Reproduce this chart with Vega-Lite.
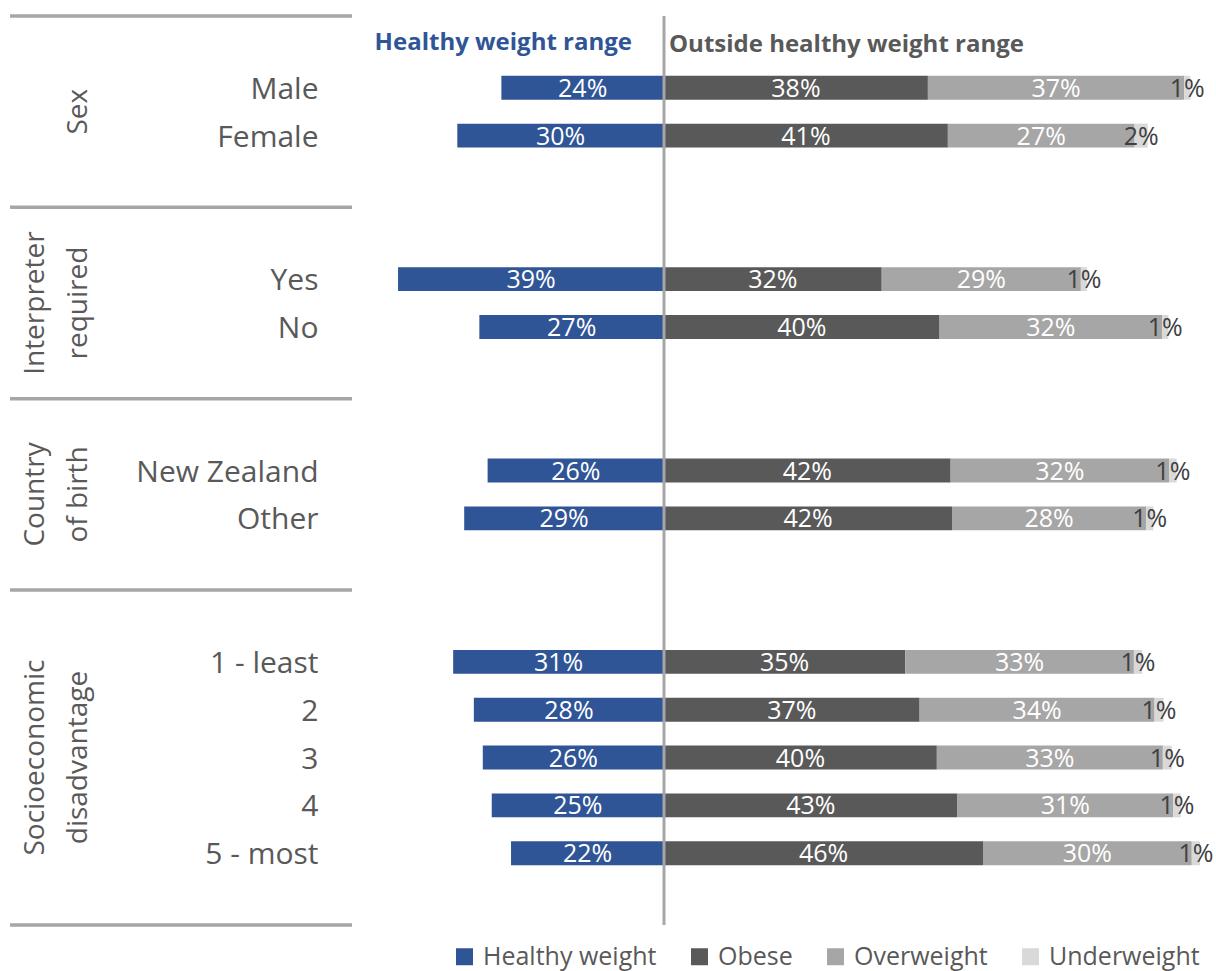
{
  "$schema": "https://vega.github.io/schema/vega-lite/v6.json",
  "width": 1216,
  "height": 909,
  "autosize": {"type": "none"},
  "padding": {"left": 0, "top": 16, "right": 0, "bottom": 46},
  "config": {
    "view": {"stroke": null},
    "font": "Open Sans",
    "axisY": {"title": null, "domain": false, "ticks": false, "tickSize": 0, "grid": false, "labelPadding": 4, "labelOffset": 2, "labelFontSize": 30, "labelFont": "Open Sans", "labelColor": "#595959", "labelLimit": 0}
  },
  "datasets": {
    "bars": [
      {"row": "Male", "cat": "Healthy weight", "v": 0.236},
      {"row": "Male", "cat": "Obese", "v": 0.383},
      {"row": "Male", "cat": "Overweight", "v": 0.372},
      {"row": "Male", "cat": "Underweight", "v": 0.009},
      {"row": "Female", "cat": "Healthy weight", "v": 0.300},
      {"row": "Female", "cat": "Obese", "v": 0.412},
      {"row": "Female", "cat": "Overweight", "v": 0.271},
      {"row": "Female", "cat": "Underweight", "v": 0.019},
      {"row": "Yes", "cat": "Healthy weight", "v": 0.386},
      {"row": "Yes", "cat": "Obese", "v": 0.316},
      {"row": "Yes", "cat": "Overweight", "v": 0.289},
      {"row": "Yes", "cat": "Underweight", "v": 0.009},
      {"row": "No", "cat": "Healthy weight", "v": 0.268},
      {"row": "No", "cat": "Obese", "v": 0.400},
      {"row": "No", "cat": "Overweight", "v": 0.323},
      {"row": "No", "cat": "Underweight", "v": 0.009},
      {"row": "New Zealand", "cat": "Healthy weight", "v": 0.256},
      {"row": "New Zealand", "cat": "Obese", "v": 0.416},
      {"row": "New Zealand", "cat": "Overweight", "v": 0.317},
      {"row": "New Zealand", "cat": "Underweight", "v": 0.011},
      {"row": "Other", "cat": "Healthy weight", "v": 0.290},
      {"row": "Other", "cat": "Obese", "v": 0.418},
      {"row": "Other", "cat": "Overweight", "v": 0.282},
      {"row": "Other", "cat": "Underweight", "v": 0.010},
      {"row": "1 - least", "cat": "Healthy weight", "v": 0.306},
      {"row": "1 - least", "cat": "Obese", "v": 0.350},
      {"row": "1 - least", "cat": "Overweight", "v": 0.332},
      {"row": "1 - least", "cat": "Underweight", "v": 0.012},
      {"row": "2", "cat": "Healthy weight", "v": 0.276},
      {"row": "2", "cat": "Obese", "v": 0.371},
      {"row": "2", "cat": "Overweight", "v": 0.341},
      {"row": "2", "cat": "Underweight", "v": 0.013},
      {"row": "3", "cat": "Healthy weight", "v": 0.263},
      {"row": "3", "cat": "Obese", "v": 0.396},
      {"row": "3", "cat": "Overweight", "v": 0.328},
      {"row": "3", "cat": "Underweight", "v": 0.013},
      {"row": "4", "cat": "Healthy weight", "v": 0.250},
      {"row": "4", "cat": "Obese", "v": 0.426},
      {"row": "4", "cat": "Overweight", "v": 0.313},
      {"row": "4", "cat": "Underweight", "v": 0.011},
      {"row": "5 - most", "cat": "Healthy weight", "v": 0.222},
      {"row": "5 - most", "cat": "Obese", "v": 0.463},
      {"row": "5 - most", "cat": "Overweight", "v": 0.303},
      {"row": "5 - most", "cat": "Underweight", "v": 0.012}
    ],
    "groups": [
      {"label": "Sex", "row": "Female"},
      {"label": "Interpreter\nrequired", "row": "No"},
      {"label": "Country\nof birth", "row": "Other"},
      {"label": "Socioeconomic\ndisadvantage", "row": "3"}
    ],
    "headings": [
      {"side": "healthy", "text": "Healthy weight range"},
      {"side": "outside", "text": "Outside healthy weight range"}
    ],
    "seps": [{"row": "_0"}, {"row": "_4"}, {"row": "_8"}, {"row": "_12"}],
    "sepEnd": [{"row": "_18"}],
    "centre": [{"v": 0}]
  },
  "layer": [
    {
      "data": {"name": "seps"},
      "mark": {"type": "rule", "color": "#A6A6A6", "strokeWidth": 3.5},
      "encoding": {
        "y": {"field": "row", "type": "nominal", "bandPosition": 0,
              "axis": {"offset": -322, "labelExpr": "indexof(datum.value, '_') === 0 ? '' : datum.value"},
              "scale": {"domain": ["_0","Male","Female","_3","_4","Yes","No","_7","_8","New Zealand","Other","_11","_12","1 - least","2","3","4","5 - most","_18"], "paddingInner": 0, "paddingOuter": 0}},
        "x": {"datum": -0.9492, "type": "quantitative", "axis": null, "scale": {"domain": [-0.96372, 0.80116], "nice": false, "zero": false}},
        "x2": {"datum": -0.4528}
      }
    },
    {
      "data": {"name": "sepEnd"},
      "mark": {"type": "rule", "color": "#A6A6A6", "strokeWidth": 3.5},
      "encoding": {
        "y": {"field": "row", "type": "nominal", "bandPosition": 1,
              "axis": {"offset": -322, "labelExpr": "indexof(datum.value, '_') === 0 ? '' : datum.value"},
              "scale": {"domain": ["_0","Male","Female","_3","_4","Yes","No","_7","_8","New Zealand","Other","_11","_12","1 - least","2","3","4","5 - most","_18"], "paddingInner": 0, "paddingOuter": 0}},
        "x": {"datum": -0.9492, "type": "quantitative", "axis": null},
        "x2": {"datum": -0.4528}
      }
    },
    {
      "data": {"name": "bars"},
      "transform": [
        {"calculate": "datum.cat === 'Healthy weight' ? -datum.v : datum.v", "as": "sv"},
        {"calculate": "indexof(['Healthy weight','Obese','Overweight','Underweight'], datum.cat)", "as": "ord"}
      ],
      "mark": {"type": "bar", "height": {"band": 0.5}},
      "encoding": {
        "y": {"field": "row", "type": "nominal",
              "scale": {"domain": ["_0","Male","Female","_3","_4","Yes","No","_7","_8","New Zealand","Other","_11","_12","1 - least","2","3","4","5 - most","_18"], "paddingInner": 0, "paddingOuter": 0},
              "axis": {"offset": -322, "labelExpr": "indexof(datum.value, '_') === 0 ? '' : datum.value"}},
        "x": {"field": "sv", "type": "quantitative", "stack": "zero", "axis": null},
        "order": {"field": "ord", "type": "quantitative"},
        "color": {"field": "cat", "type": "nominal",
                  "scale": {"domain": ["Healthy weight", "Obese", "Overweight", "Underweight"], "range": ["#2F5597", "#595959", "#A6A6A6", "#D9D9D9"]},
                  "legend": {"orient": "none", "legendX": 452, "legendY": 928, "direction": "horizontal", "title": null, "symbolType": "square", "symbolSize": 289, "symbolStrokeWidth": 0, "labelFontSize": 25, "labelFont": "Open Sans", "labelColor": "#595959", "columnPadding": 30, "labelOffset": 6, "padding": 0, "labelLimit": 0}}
      }
    },
    {
      "data": {"name": "bars"},
      "transform": [
        {"calculate": "datum.cat === 'Healthy weight' ? -datum.v : datum.v", "as": "sv"},
        {"calculate": "indexof(['Healthy weight','Obese','Overweight','Underweight'], datum.cat)", "as": "ord"}
      ],
      "mark": {"type": "text", "fontSize": 25, "font": "Open Sans", "baseline": "middle", "align": "center", "dy": 1},
      "encoding": {
        "y": {"field": "row", "type": "nominal",
              "axis": {"offset": -322, "labelExpr": "indexof(datum.value, '_') === 0 ? '' : datum.value"},
              "scale": {"domain": ["_0","Male","Female","_3","_4","Yes","No","_7","_8","New Zealand","Other","_11","_12","1 - least","2","3","4","5 - most","_18"], "paddingInner": 0, "paddingOuter": 0}},
        "x": {"field": "sv", "type": "quantitative", "stack": "zero", "bandPosition": 0.5, "axis": null},
        "detail": {"field": "cat", "type": "nominal"},
        "order": {"field": "ord", "type": "quantitative"},
        "text": {"field": "v", "type": "quantitative", "format": ".0%"},
        "color": {"condition": {"test": "datum.cat === 'Underweight'", "value": "#404040"}, "value": "#FFFFFF"}
      }
    },
    {
      "data": {"name": "centre"},
      "mark": {"type": "rule", "color": "#A6A6A6", "strokeWidth": 3},
      "encoding": {
        "x": {"field": "v", "type": "quantitative", "axis": null}
      }
    },
    {
      "data": {"name": "headings"},
      "transform": [{"filter": "datum.side === 'healthy'"}],
      "mark": {"type": "text", "align": "right", "baseline": "middle", "dx": -32, "dy": 3, "fontSize": 24, "fontWeight": "bold", "font": "Open Sans", "color": "#2F5597"},
      "encoding": {
        "x": {"datum": 0, "type": "quantitative", "axis": null},
        "y": {"datum": "_0", "type": "nominal",
              "axis": {"offset": -322, "labelExpr": "indexof(datum.value, '_') === 0 ? '' : datum.value"}},
        "text": {"field": "text", "type": "nominal"}
      }
    },
    {
      "data": {"name": "headings"},
      "transform": [{"filter": "datum.side === 'outside'"}],
      "mark": {"type": "text", "align": "left", "baseline": "middle", "dx": 5, "dy": 5, "fontSize": 24, "fontWeight": "bold", "font": "Open Sans", "color": "#595959"},
      "encoding": {
        "x": {"datum": 0, "type": "quantitative", "axis": null},
        "y": {"datum": "_0", "type": "nominal",
              "axis": {"offset": -322, "labelExpr": "indexof(datum.value, '_') === 0 ? '' : datum.value"}},
        "text": {"field": "text", "type": "nominal"}
      }
    },
    {
      "data": {"name": "groups"},
      "transform": [{"filter": "datum.row === 'Female'"}],
      "mark": {"type": "text", "angle": 270, "align": "center", "baseline": "bottom", "lineBreak": "\n", "lineHeight": 43, "fontSize": 28, "font": "Open Sans", "color": "#595959"},
      "encoding": {
        "x": {"datum": -0.8287, "type": "quantitative", "axis": null},
        "y": {"field": "row", "type": "nominal", "bandPosition": 0,
              "axis": {"offset": -322, "labelExpr": "indexof(datum.value, '_') === 0 ? '' : datum.value"}},
        "text": {"field": "label", "type": "nominal"}
      }
    },
    {
      "data": {"name": "groups"},
      "transform": [{"filter": "datum.row === 'No' || datum.row === 'Other'"}],
      "mark": {"type": "text", "angle": 270, "align": "center", "baseline": "bottom", "lineBreak": "\n", "lineHeight": 43, "fontSize": 28, "font": "Open Sans", "color": "#595959"},
      "encoding": {
        "x": {"datum": -0.8911, "type": "quantitative", "axis": null},
        "y": {"field": "row", "type": "nominal", "bandPosition": 0,
              "axis": {"offset": -322, "labelExpr": "indexof(datum.value, '_') === 0 ? '' : datum.value"}},
        "text": {"field": "label", "type": "nominal"}
      }
    },
    {
      "data": {"name": "groups"},
      "transform": [{"filter": "datum.row === '3'"}],
      "mark": {"type": "text", "angle": 270, "align": "center", "baseline": "bottom", "lineBreak": "\n", "lineHeight": 43, "fontSize": 28, "font": "Open Sans", "color": "#595959"},
      "encoding": {
        "x": {"datum": -0.8911, "type": "quantitative", "axis": null},
        "y": {"field": "row", "type": "nominal",
              "axis": {"offset": -322, "labelExpr": "indexof(datum.value, '_') === 0 ? '' : datum.value"}},
        "text": {"field": "label", "type": "nominal"}
      }
    }
  ]
}
